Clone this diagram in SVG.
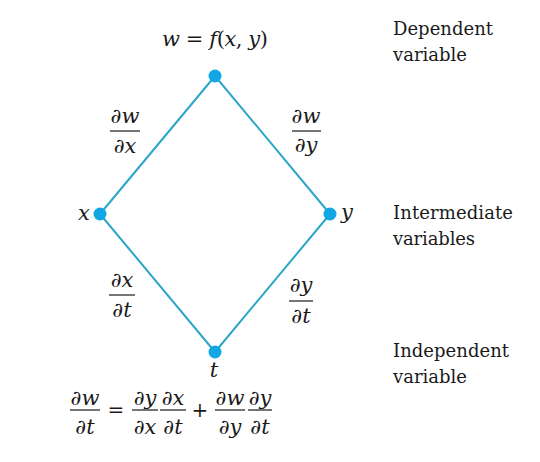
<svg xmlns="http://www.w3.org/2000/svg" width="540" height="462" viewBox="0 0 540 462">
<style>
.m{font-family:"DejaVu Serif","Liberation Serif",serif;font-style:italic;font-size:21px;fill:#1a1a1a;text-anchor:middle}
.r{font-family:"DejaVu Serif","Liberation Serif",serif;font-size:20px;fill:#1a1a1a;text-anchor:middle}
.lab{font-family:"DejaVu Serif","Liberation Serif",serif;font-size:18px;fill:#1a1a1a}
.bar{stroke:#1a1a1a;stroke-width:1.2}
.edge{stroke:#2aa6c8;stroke-width:2;fill:none}
.node{fill:#12a6e4}
</style>
<rect width="540" height="462" fill="#ffffff"/>
<g id="connectors">
<line class="edge" x1="215" y1="76" x2="100" y2="214"/>
<line class="edge" x1="215" y1="76" x2="330" y2="214"/>
<line class="edge" x1="100" y1="214" x2="215" y2="352"/>
<line class="edge" x1="330" y1="214" x2="215" y2="352"/>
<g id="dw-dx"><text class="m" x="125" y="123">∂w</text><line class="bar" x1="110" y1="131" x2="140" y2="131"/><text class="m" x="125" y="153">∂x</text></g>
<g id="dw-dy"><text class="m" x="306" y="123">∂w</text><line class="bar" x1="292" y1="131" x2="321" y2="131"/><text class="m" x="306" y="152">∂y</text></g>
<g id="dx-dt"><text class="m" x="122" y="287">∂x</text><line class="bar" x1="109" y1="295" x2="135" y2="295"/><text class="m" x="122" y="317">∂t</text></g>
<g id="dy-dt"><text class="m" x="301" y="292">∂y</text><line class="bar" x1="289" y1="301" x2="313" y2="301"/><text class="m" x="301" y="323">∂t</text></g>
</g>
<g id="node-w"><circle class="node" cx="215" cy="76" r="6.5"/><text class="m" x="215" y="46" textLength="106">w <tspan font-style="normal">=</tspan> f<tspan font-style="normal">(</tspan>x<tspan font-style="normal">,</tspan> y<tspan font-style="normal">)</tspan></text></g>
<g id="node-x"><circle class="node" cx="100" cy="214" r="6.5"/><text class="m" x="84" y="220">x</text></g>
<g id="node-y"><circle class="node" cx="330" cy="214" r="6.5"/><text class="m" x="347" y="219">y</text></g>
<g id="node-t"><circle class="node" cx="215" cy="352" r="6.5"/><text class="m" x="214" y="377">t</text></g>
<g id="levels">
<text class="lab" x="393" y="35" textLength="100">Dependent</text>
<text class="lab" x="393" y="61" textLength="74">variable</text>
<text class="lab" x="393" y="219" textLength="120">Intermediate</text>
<text class="lab" x="393" y="245" textLength="82">variables</text>
<text class="lab" x="393" y="357" textLength="116">Independent</text>
<text class="lab" x="393" y="383" textLength="74">variable</text>
</g>
<g id="equation">
<text class="m" x="85" y="405">∂w</text><line class="bar" x1="70" y1="410" x2="100" y2="410"/><text class="m" x="85" y="434">∂t</text>
<text class="r" x="116" y="417">=</text>
<text class="m" x="145" y="405">∂y</text><line class="bar" x1="132" y1="410" x2="158" y2="410"/><text class="m" x="145" y="434">∂x</text>
<text class="m" x="173" y="405">∂x</text><line class="bar" x1="160" y1="410" x2="186" y2="410"/><text class="m" x="173" y="434">∂t</text>
<text class="r" x="200" y="417">+</text>
<text class="m" x="230" y="405">∂w</text><line class="bar" x1="215" y1="410" x2="245" y2="410"/><text class="m" x="230" y="434">∂y</text>
<text class="m" x="260" y="405">∂y</text><line class="bar" x1="248" y1="410" x2="272" y2="410"/><text class="m" x="260" y="434">∂t</text>
</g>
</svg>
